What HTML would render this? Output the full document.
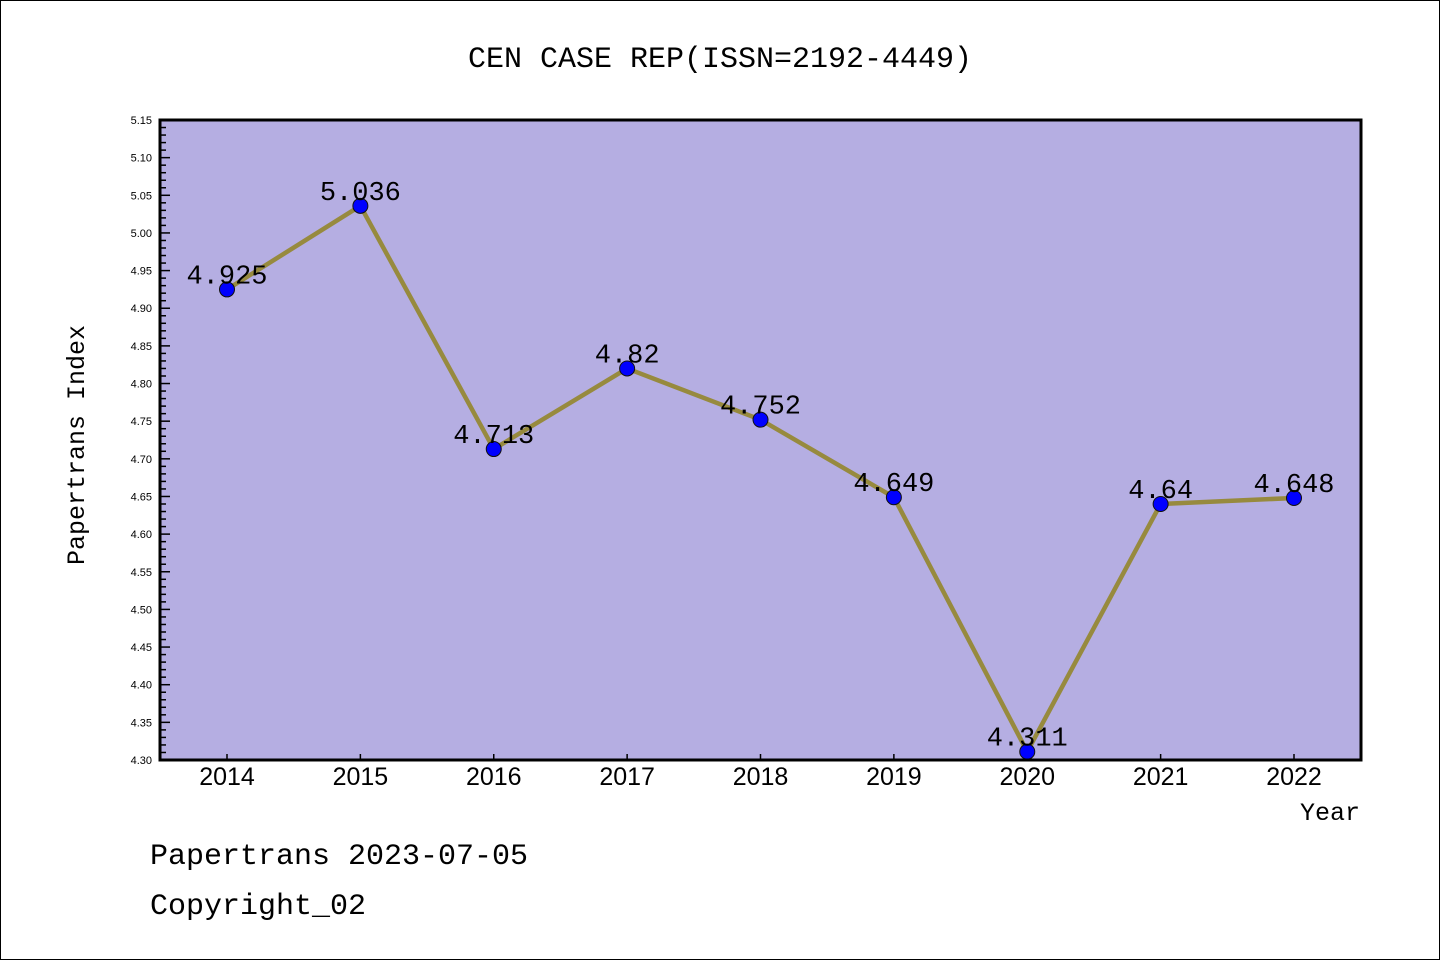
<!DOCTYPE html>
<html><head><meta charset="utf-8"><style>
body{margin:0;background:#fff}
svg{display:block}
text{font-family:"Liberation Mono","Noto Sans CJK SC",monospace;fill:#000}
</style></head><body>
<svg id="chart" width="1440" height="960" xmlns="http://www.w3.org/2000/svg">
<rect x="0.5" y="0.5" width="1439" height="959" fill="#fff" stroke="#000"/>
<text x="720" y="67" font-size="30" text-anchor="middle">CEN CASE REP(ISSN=2192-4449)</text>
<rect x="160" y="120" width="1201" height="640" fill="#b5aee2"/>
<g id="yaxis"></g>
<g id="xaxis"></g>
<g id="series"></g>
<rect x="160" y="120" width="1201" height="640" fill="none" stroke="#000" stroke-width="3"/>
<text x="0" y="0" font-size="25" text-anchor="middle" transform="translate(84,445) rotate(-90)">Papertrans Index</text>
<text x="1360" y="820" font-size="25" text-anchor="end">Year</text>
<text x="150" y="864" font-size="30">Papertrans 2023-07-05</text>
<text x="150" y="914" font-size="30">Copyright_02</text>
</svg>
<script>
const years = ["2014","2015","2016","2017","2018","2019","2020","2021","2022"];
const values = [4.925,5.036,4.713,4.82,4.752,4.649,4.311,4.64,4.648];
const valueLabels = ["4.925","5.036","4.713","4.82","4.752","4.649","4.311","4.64","4.648"];
const yTicks = ["4.30","4.35","4.40","4.45","4.50","4.55","4.60","4.65","4.70","4.75","4.80","4.85","4.90","4.95","5.00","5.05","5.10","5.15"];
const yMin = 4.30, yMax = 5.15;
const NS="http://www.w3.org/2000/svg";
function y(v){return 760-(v-yMin)/(yMax-yMin)*640;}
function x(i){return 227+i*133.375;}
function mk(tag,attrs,parent){const e=document.createElementNS(NS,tag);for(const k in attrs)e.setAttribute(k,attrs[k]);parent.appendChild(e);return e;}
const ya=document.getElementById('yaxis'),xa=document.getElementById('xaxis'),se=document.getElementById('series');
for(let k=0;k<=Math.round((yMax-yMin)*100);k++){
  const v=yMin+k*0.01, yy=y(v), major=k%5===0;
  const t=mk('line',{x1:160,x2:major?170:166,y1:yy,y2:yy,stroke:'#000','stroke-width':1.5},ya);
  
  
}
yTicks.forEach(s=>{
  const t=mk('text',{x:152,y:y(parseFloat(s))+4,'font-size':11,'text-anchor':'end',style:'font-family:"Liberation Sans",sans-serif'},ya);
  t.textContent=s;
  
  
});
years.forEach((yr,i)=>{
  const l=mk('line',{x1:x(i),x2:x(i),y1:760,y2:754,stroke:'#000','stroke-width':1.5},xa);
  
  
  const t=mk('text',{x:x(i),y:785,'font-size':25,'text-anchor':'middle',style:'font-family:"Liberation Sans",sans-serif'},xa);
  t.textContent=yr;
  
  
});
const pl=mk('polyline',{points:values.map((v,i)=>x(i)+','+y(v)).join(' '),fill:'none',stroke:'#978a3e','stroke-width':4.5,'stroke-linejoin':'round'},se);


values.forEach((v,i)=>{
  const c=mk('circle',{cx:x(i),cy:y(v),r:7.5,fill:'#0000ff',stroke:'#111','stroke-width':1},se);
  
  
  const t=mk('text',{x:x(i),y:y(v)-6,'font-size':27,'text-anchor':'middle'},se);
  t.textContent=valueLabels[i];
  
  
});
</script>
</body></html>
